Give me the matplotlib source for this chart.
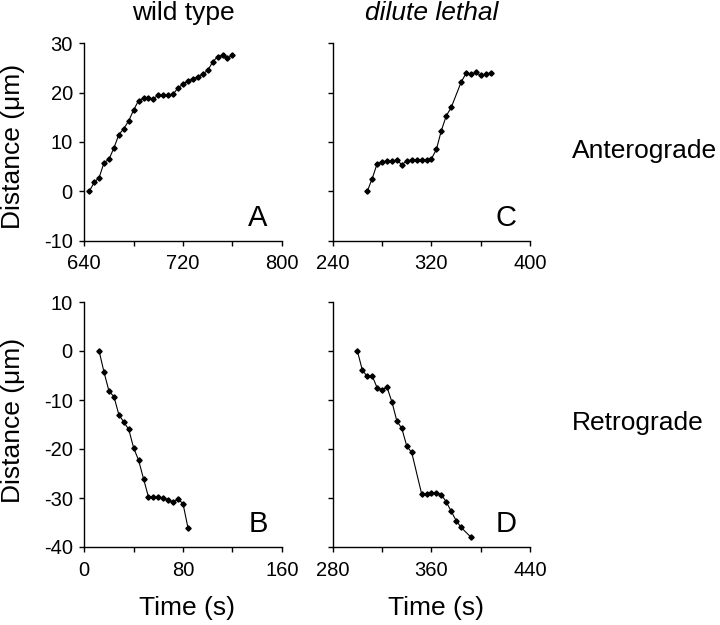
import matplotlib
matplotlib.use("Agg")
import matplotlib.pyplot as plt

plt.rcParams['font.family'] = ['Liberation Sans', 'DejaVu Sans']
plt.rcParams['axes.unicode_minus'] = False

# Panel A: wild type, anterograde
a_time = [644, 648, 652, 656, 660, 664, 668, 672, 676, 680, 684, 688, 692, 696, 700,
          704, 708, 712, 716, 720, 724, 728, 732, 736, 740, 744, 748, 752, 756, 760]
a_dist = [0.0, 1.8, 2.8, 5.8, 6.5, 8.8, 11.5, 12.7, 14.3, 16.5, 18.4, 18.85, 18.85, 18.8, 19.5,
          19.5, 19.5, 19.7, 21.0, 21.7, 22.4, 22.8, 23.2, 23.8, 24.5, 26.2, 27.3, 27.6, 27.0, 27.6]

# Panel C: dilute lethal, anterograde
c_time = [268, 272, 276, 280, 284, 288, 292, 296, 300, 304, 308, 312, 316, 320, 324,
          328, 332, 336, 344, 348, 352, 356, 360, 364, 368]
c_dist = [0.0, 2.6, 5.6, 6.0, 6.15, 6.15, 6.35, 5.4, 6.15, 6.4, 6.4, 6.4, 6.4, 6.6, 8.5,
          12.3, 15.3, 17.0, 22.1, 23.9, 23.7, 24.1, 23.5, 23.7, 24.05]

# Panel B: wild type, retrograde
b_time = [12, 16, 20, 24, 28, 32, 36, 40, 44, 48, 52, 56, 60, 64, 68, 72, 76, 80, 84]
b_dist = [0.0, -4.35, -8.2, -9.3, -13.0, -14.5, -16.0, -19.8, -22.3, -26.1, -29.8, -29.8,
          -29.8, -30.0, -30.4, -30.9, -30.2, -31.2, -36.1]

# Panel D: dilute lethal, retrograde
d_time = [300, 304, 308, 312, 316, 320, 324, 328, 332, 336, 340, 344, 352, 356, 360,
          364, 368, 372, 376, 380, 384, 392]
d_dist = [0.0, -3.9, -5.2, -5.1, -7.5, -7.9, -7.4, -10.4, -14.3, -15.8, -19.4, -20.7, -29.1,
          -29.1, -28.9, -28.9, -29.3, -30.8, -32.7, -34.6, -36.0, -38.0]

col_titles = ["wild type", "dilute lethal"]
row_titles = ["Anterograde", "Retrograde"]
panel_letters = ["A", "C", "B", "D"]
ylabel = "Distance (\u03bcm)"
xlabel = "Time (s)"

xlims = [(640, 800), (240, 400), (0, 160), (280, 440)]
ylims = [(-10, 30), (-10, 30), (-40, 10), (-40, 10)]
series = [(a_time, a_dist), (c_time, c_dist), (b_time, b_dist), (d_time, d_dist)]

W, H = 720, 625
fig = plt.figure(figsize=(W / 100, H / 100), dpi=100)

left_x = [84.3, 332.7]
ax_w = 197.5
rows = [(43.3, 240.7), (302.0, 547.0)]

axes = []
for r in range(2):
    for c in range(2):
        top, bot = rows[r]
        ax = fig.add_axes([left_x[c] / W, 1 - bot / H, ax_w / W, (bot - top) / H])
        axes.append(ax)

for i, ax in enumerate(axes):
    t, d = series[i]
    ax.plot(t, d, color='black', lw=0.8, marker='D', markersize=2.7,
            markerfacecolor='black', markeredgecolor='black')
    ax.set_xlim(*xlims[i])
    ax.set_ylim(*ylims[i])
    x0, x1 = xlims[i]
    xt = list(range(x0, x1 + 1, 40))
    ax.set_xticks(xt)
    ax.set_xticklabels([str(v) if (v - x0) % 80 == 0 else "" for v in xt])
    y0, y1 = ylims[i]
    ax.set_yticks(list(range(y0, y1 + 1, 10)))
    for s in ['top', 'right']:
        ax.spines[s].set_visible(False)
    for s in ['left', 'bottom']:
        ax.spines[s].set_linewidth(1.0)
    ax.tick_params(axis='both', direction='out', length=3.3, width=1.0,
                   labelsize=14.5, color='black')
    ax.tick_params(axis='x', pad=6.5)
    ax.tick_params(axis='y', pad=5)
    if i % 2 == 1:
        ax.set_yticklabels([])
    top, bot = rows[i // 2]
    ax.text(0.88, 22.5 / (bot - top), panel_letters[i], transform=ax.transAxes,
            ha='center', va='center', fontsize=21)

# column titles
fig.text(183 / W, 1 - 13 / H, col_titles[0], ha='center', va='center', fontsize=19)
fig.text(431.5 / W, 1 - 13 / H, col_titles[1], ha='center', va='center', fontsize=19,
         style='italic')

# row titles
fig.text(572 / W, 1 - 151 / H, row_titles[0], ha='left', va='center', fontsize=19)
fig.text(572 / W, 1 - 423 / H, row_titles[1], ha='left', va='center', fontsize=19)

# y labels
fig.text(13 / W, 1 - 146 / H, ylabel, rotation=90, ha='center', va='center', fontsize=19)
fig.text(13 / W, 1 - 420 / H, ylabel, rotation=90, ha='center', va='center', fontsize=19)

# x labels
fig.text(187 / W, 1 - 608 / H, xlabel, ha='center', va='center', fontsize=19)
fig.text(436 / W, 1 - 608 / H, xlabel, ha='center', va='center', fontsize=19)

fig.savefig("out.png", dpi=100)
